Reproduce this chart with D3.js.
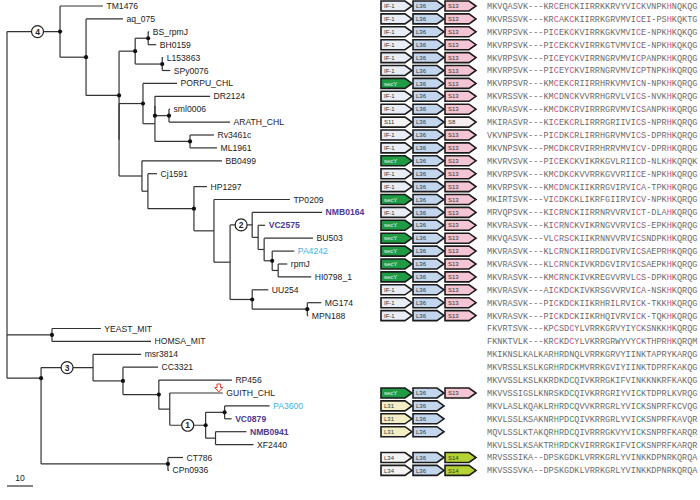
<!DOCTYPE html>
<html><head><meta charset="utf-8">
<script src="https://cdn.jsdelivr.net/npm/d3@7"></script>
<style>body{margin:0;background:#fff}</style>
</head><body>
<svg id="c" width="700" height="500"></svg>
<script>
// ---------- DATA ----------
const treeNewick = `(
 (TM1476:16.5,
  (aq_075:14.2,
   (((BS_rpmJ:0.4,BH0159:3.1)NBS:5.0,(L153863:0.4,SPy0076:3.1)NL:10.4)A4:6.2,
    ((PORPU_CHL:13.1,((DR2124:21.2,(sml0006:0.4,ARATH_CHL:23.5)A7:5.4)A6a:0,(Rv3461c:9.2,ML1961:10.4)A8:13.5)A6:4.6)A5:9.2,
     (BB0499:30.8,(Cj1591:3.5,(HP1297:5.0,(TP0209:29.2,((NMB0164:26.9,(VC2575:2.7,(BU503:18.8,(PA4242:8.5,(rpmJ:3.5,HI0798_1:12.7)W:2.3)Z:3.1)Y:2.3)X:2.3)A14:8.5,(UU254:6.2,(MG174:5.4,MPN188:0.4)A16:21.2)A15:8.5)A13:6.2)A12:7.7)A11:17.7)A10:2.3)A9:8.8
    )A3b:0
   )A3:12.7
  )A2:10.0
 )A1:20.4,
 (YEAST_MIT:18.8,HOMSA_MIT:38.1)MITO:17.3,
 ((msr3814:18.5,(CC3321:13.5,(RP456:28.1,(GUITH_CHL:20.4,((PA3600:17.3,VC0879:2.7)B7:7.3,(NMB0941:11.9,XF2440:14.6)B8:3.8)B6:13.8)B5:4.2)B4:13.8)B3:11.5)B2:20.0,(CT786:5.8,CPn0936:0.4)B9:48.8)B1:13.1
)ROOT;`;

const sequences = [
 "MKVQASVK---KRCEHCKIIRRKKRVYVICKVNPKHNQKQG",
 "MKVRSSVK---KRCAKCKIIRRKGRVMVICEI-PSHKQKTG",
 "MKVRPSVK---PICEKCKVIRRKGKVMVICE-NPKHKQKQG",
 "MKVRPSVK---PICEKCKVIRRKGTVMVICE-NPKHKQKQG",
 "MKVRPSVK---PICEYCKVIRRNGRVMVICPANPKHKQRQG",
 "MKVRPSVK---PICEYCKVIRRNGRVMVICPTNPKHKQRQG",
 "MKVRPSVR---KMCEKCRIIRRHRKVMVICN-NPKHKQRQG",
 "MKVRSSVK---KMCDNCKVVRRHGRVLVICS-NVKHKQRQG",
 "MKVRASVK---KMCDKCRVIRRRGRVMVICSANPKHKQRQG",
 "MKIRASVR---KICEKCRLIRRRGRIIVICS-NPRHKQRQG",
 "VKVNPSVK---PICDKCRLIRRHGRVMVICS-DPRHKQRQG",
 "MKVNPSVK---PMCDKCRVIRRHRRVMVICV-DPRHKQRQG",
 "MKVRVSVK---PICEKCKVIKRKGVLRIICD-NLKHKQRQK",
 "MKVRPSVK---KMCDKCKVVRRKGVVRIICE-NPKHKQRQG",
 "MKVRPSVK---KMCDNCKIIKRRGVIRVICA-TPKHKQRQG",
 "MKIRTSVK---VICDKCKLIKRFGIIRVICV-NPKHKQRQG",
 "MRVQPSVK---KICRNCKIIRRNRVVRVICT-DLAHKQRQG",
 "MKVRASVK---KICRNCKVIKRNGVVRVICS-EPKHKQRQG",
 "MKVQASVK---VLCRSCKIIKRNNVVRVICSNDPKHKQRQG",
 "MKVRASVK---KLCRNCKIIRRDGIVRVICSAEPRHKQRQG",
 "MKVRASVK---KLCRNCKIVKRDGVIRVICSAEPKHKQRQG",
 "MKVRASVK---KMCRNCKIVKREGVVRVLCS-DPKHKQRQG",
 "MKVRASVK---AICKDCKIVKRSGVVRVICA-NSKHKQRQG",
 "MKVRASVK---PICKDCKIIKRHRILRVICK-TKKHKQRQG",
 "MKVRASVK---PICKDCKIIKRHQIVRVICK-TQKHKQRQG",
 "FKVRTSVK---KPCSDCYLVRRKGRVYIYCKSNKKHKQRQG",
 "FKNKTVLK---KRCKDCYLVKRRGRWYVYCKTHPRHKQRQM",
 "MKIKNSLKALKARHRDNQLVRRKGRVYIINKTAPRYKARQG",
 "MKVRSSLKSLKGRHRDCKMVRRKGVIYIINKTDPRFKAKQG",
 "MKVVSSLKSLKKRDKDCQIVKRRGKIFVINKKNKRFKAKQG",
 "MKVVSSIGSLKNRSKDCQIVKRRGRIYVICKTDPRLKVRQG",
 "MKVLASLKQAKLRHRDCQVVKRRGRLYVICKSNPRFKCVQG",
 "MKVLSSLKSAKNRHPDCQIVKRRGRLYVICKSNPRFKAVQR",
 "MQVLSSLKTAKQRHRDCQIVRRRGKVYVICKSNPRFKARQR",
 "MKVLSSLKSAKTRHRDCKVIRRRGKIFVICKSNPRFKARQR",
 "MRVSSSIKA--DPSKGDKLVRRKGRLYVINKKDPNRKQRQA",
 "MKVSSSVKA--DPSKGDKLVRRKGRLYVINKKDPNRKQRQA"
];

const geneSets = [
 ["IF-1","L36","S13"],["IF-1","L36","S13"],["IF-1","L36","S13"],["IF-1","L36","S13"],
 ["IF-1","L36","S13"],["IF-1","L36","S13"],["secY","L36","S13"],["IF-1","L36","S13"],
 ["IF-1","L36","S13"],["S11","L36","S8"],["IF-1","L36","S13"],["IF-1","L36","S13"],
 ["secY","L36","S13"],["IF-1","L36","S13"],["IF-1","L36","S13"],["secY","L36","S13"],
 ["IF-1","L36","S13"],["secY","L36","S13"],["secY","L36","S13"],["secY","L36","S13"],
 ["secY","L36","S13"],["secY","L36","S13"],["IF-1","L36","S13"],["IF-1","L36","S13"],
 ["IF-1","L36","S13"],[],[],[],[],[],
 ["secY","L36","S13"],["L31","L36"],["L31","L36"],["L31","L36"],[],
 ["L34","L36","S14"],["L34","L36","S14"]
];

const purpleTaxa = ["NMB0164","VC2575","VC0879","NMB0941"];
const blueTaxa = ["PA4242","PA3600"];
const dotNodes = ["A1","A2","A3","A4","NBS","NL","A5","A7","A8","A11","Z","A15","A16","MITO","B1","B3","B4","B6","B7","B9"];
const baseDotNodes = ["A7"];
const cladeMarks = [["A1","4"],["A14","2"],["B2","3"],["B6","1"]];
const anchoredNodes = [["B1", 28.85]];
const flaggedTaxa = ["GUITH_CHL"];
const scaleBarUnits = 10;
const pinkColumns = [14,17,30,36];
const greenColumns = [14,17,30];
const greenGroupStart = "msr3814";

// ---------- STYLE ----------
const geneFill = {"IF-1":"#e9eef6","L36":"#c3d6ee","S13":"#f5c5d3","secY":"#1f9a45","S11":"#f5f5f5","S8":"#f7eef0","L31":"#f3eec4","L34":"#f4f4f4","S14":"#b6d336"};

// ---------- PARSE ----------
function parseNewick(str){
  const s = str.replace(/\s+/g,"");
  let i = 0;
  function node(){
    const n = {children:[]};
    if (s[i] === "("){
      i++; n.children.push(node());
      while (s[i] === ","){ i++; n.children.push(node()); }
      i++;
    }
    let name = "";
    while (i < s.length && !",():;".includes(s[i])) name += s[i++];
    n.name = name;
    n.length = 0;
    if (s[i] === ":"){ i++; let num=""; while (i < s.length && !",();".includes(s[i])) num += s[i++]; n.length = +num; }
    if (!n.children.length) delete n.children;
    return n;
  }
  return node();
}

const root = d3.hierarchy(parseNewick(treeNewick));
const leaves = root.leaves();
const x = d3.scaleLinear().domain([0, scaleBarUnits]).range([7, 33]);
const y = d3.scaleLinear().domain([0, leaves.length-1]).range([6, 470.4]);
const anchors = new Map(anchoredNodes);

root.eachBefore(d => { d.dist = (d.parent ? d.parent.dist : 0) + d.data.length; d.px = x(d.dist); });
leaves.forEach((d,i) => { d.row = i; d.py = y(i); });
root.eachAfter(d => {
  if (d.children){
    d.py = anchors.has(d.data.name) ? y(anchors.get(d.data.name))
         : (d.children[0].py + d.children[d.children.length-1].py)/2;
  }
});
const byName = new Map(); root.each(d => byName.set(d.data.name, d));

// ---------- DRAW ----------
const svg = d3.select("#c");
const lineCol = "#333";
const g = svg.append("g");

// tree lines
root.each(d => {
  if (!d.children) return;
  g.append("line").attr("x1", d.px).attr("x2", d.px)
    .attr("y1", d.children[0].py).attr("y2", d.children[d.children.length-1].py)
    .attr("stroke", lineCol).attr("stroke-width", 1.2);
  d.children.forEach(c => {
    g.append("line").attr("x1", d.px).attr("x2", c.px).attr("y1", c.py).attr("y2", c.py)
      .attr("stroke", lineCol).attr("stroke-width", 1.2);
  });
});

// dots
dotNodes.forEach(n => { const d = byName.get(n);
  g.append("circle").attr("cx", d.px).attr("cy", d.py).attr("r", 2.1).attr("fill", "#111"); });
baseDotNodes.forEach(n => { const d = byName.get(n);
  g.append("circle").attr("cx", d.parent.px).attr("cy", d.py).attr("r", 2.1).attr("fill", "#111"); });

// clade circles
cladeMarks.forEach(([n, lab]) => { const d = byName.get(n);
  const cx = (d.parent.px + d.px)/2 + (n === "A1" ? 4 : 0);
  g.append("circle").attr("cx", cx).attr("cy", d.py).attr("r", 6)
    .attr("fill", "#fff").attr("stroke", "#222").attr("stroke-width", 1.2);
  g.append("text").attr("x", cx).attr("y", d.py).attr("dy", "0.35em").attr("text-anchor", "middle")
    .attr("font-family", "Liberation Sans, Arial, sans-serif").attr("font-size", 8.5).attr("font-weight", "bold")
    .attr("fill", "#222").text(lab);
});

// leaf labels
leaves.forEach(d => {
  const nm = d.data.name;
  const purple = purpleTaxa.includes(nm), blue = blueTaxa.includes(nm);
  g.append("text").attr("x", d.px + 3.5).attr("y", d.py).attr("dy", "0.35em")
    .attr("font-family", "Liberation Sans, Arial, sans-serif").attr("font-size", 8.6)
    .attr("font-weight", purple ? "bold" : "normal")
    .attr("fill", purple ? "#4b3a92" : blue ? "#3cb2e6" : "#222").text(nm);
});

// red flag arrow
flaggedTaxa.forEach(n => { const d = byName.get(n);
  const cx = d.px - 4, top = d.py - 9;
  g.append("path").attr("d", `M${cx-1.8},${top} L${cx+1.8},${top} L${cx+1.8},${top+3.5} L${cx+4},${top+3.5} L${cx},${top+8} L${cx-4},${top+3.5} L${cx-1.8},${top+3.5} Z`)
    .attr("fill", "#fff").attr("stroke", "#e23a2c").attr("stroke-width", 1);
});

// scale bar
g.append("line").attr("x1", x(0)).attr("x2", x(scaleBarUnits)).attr("y1", 486).attr("y2", 486)
  .attr("stroke", lineCol).attr("stroke-width", 1.2);
g.append("text").attr("x", (x(0)+x(scaleBarUnits))/2).attr("y", 481).attr("text-anchor", "middle")
  .attr("font-family", "Liberation Sans, Arial, sans-serif").attr("font-size", 8.6).attr("fill", "#222").text(scaleBarUnits);

// gene arrows
const slot = d3.scaleBand().domain([0,1,2]).range([381, 477]);
const aw = 31, ap = 7, ah = 10;
geneSets.forEach((genes, r) => {
  const cy = y(r);
  genes.forEach((gn, k) => {
    const x0 = slot(k);
    g.append("path").attr("d", `M${x0},${cy-ah/2} L${x0+aw-ap},${cy-ah/2} L${x0+aw},${cy} L${x0+aw-ap},${cy+ah/2} L${x0},${cy+ah/2} Z`)
      .attr("fill", geneFill[gn]).attr("stroke", "#1b1b1b").attr("stroke-width", 1.6).attr("stroke-linejoin", "miter");
    g.append("text").attr("x", x0 + 3).attr("y", cy).attr("dy", "0.35em")
      .attr("font-family", "Liberation Sans, Arial, sans-serif").attr("font-size", 6)
      .attr("fill", gn === "secY" ? "#e8f5ea" : "#333").text(gn);
  });
});

// sequences
const col = d3.scaleBand().domain(d3.range(1, 42)).range([487, 697.5]);
const greenStart = leaves.findIndex(d => d.data.name === greenGroupStart);
sequences.forEach((seq, r) => {
  const cy = y(r);
  const green = r >= greenStart;
  const cols = green ? greenColumns : pinkColumns;
  const t = g.append("g");
  seq.split("").forEach((ch, j) => {
    const c = j + 1;
    const hi = cols.includes(c) && (ch === "C" || ch === "H");
    t.append("text").attr("x", col(c)).attr("y", cy).attr("dy", "0.35em")
      .attr("font-family", "Liberation Mono, Courier New, monospace").attr("font-size", 8.5)
      .attr("fill", hi ? (green ? "#2f9e55" : "#e0508f") : "#6b6b6b").text(ch);
  });
});
</script>
</body></html>
